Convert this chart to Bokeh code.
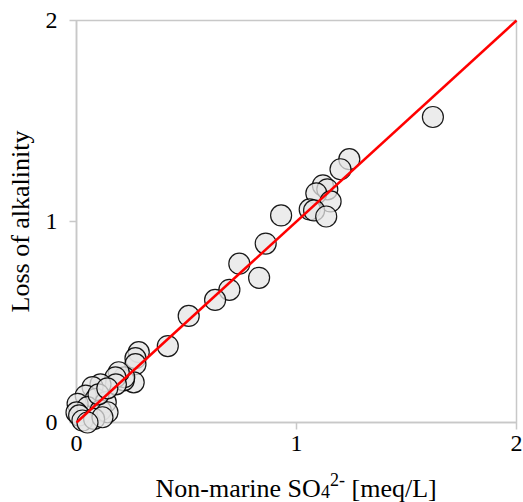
from bokeh.plotting import figure
from bokeh.layouts import column
from bokeh.models import Range1d, FixedTicker, ColumnDataSource
from bokeh.core.properties import value
from bokeh.embed import file_html
from bokeh.resources import INLINE

# Non-marine SO4(2-) [meq/L]
so4 = [1.62, 1.24, 1.20, 1.12, 1.14, 1.09, 1.155, 1.06, 1.08, 1.135, 0.93, 0.86,
       0.74, 0.83, 0.695, 0.63, 0.51, 0.415,
       0.283, 0.268, 0.268, 0.26, 0.215, 0.217, 0.192, 0.177, 0.179, 0.109, 0.073,
       0.042, 0.088, 0.133, 0.005, 0.05, 0.11, 0.141, 0.0, 0.012, 0.027, 0.08,
       0.118, 0.05, 0.10, 0.14]
# Loss of alkalinity
alk = [1.52, 1.31, 1.26, 1.18, 1.16, 1.14, 1.10, 1.06, 1.055, 1.025, 1.03, 0.89,
       0.79, 0.72, 0.66, 0.61, 0.53, 0.38,
       0.35, 0.32, 0.29, 0.20, 0.21, 0.225, 0.25, 0.225, 0.19, 0.19, 0.176,
       0.134, 0.118, 0.101, 0.093, 0.076, 0.06, 0.051, 0.05, 0.035, 0.01, 0.018,
       0.026, 0.0, 0.14, 0.17]

# 1:1 reference line
line_x = [0, 2]
line_y = [0, 2]

x_ticks = [0, 1, 2]
y_ticks = [0, 1, 2]

# x-axis title, split into pieces for subscript / superscript
title_parts = ["Non-marine SO", "4", "2-", "[meq/L]"]

GRAY = "#c8c8c8"
FONT = "Liberation Serif"

p = figure(width=523, height=466, output_backend="svg", toolbar_location=None,
           x_range=Range1d(0, 2), y_range=Range1d(0, 2),
           min_border_left=76, min_border_right=7,
           min_border_top=20, min_border_bottom=44)
p.outline_line_color = GRAY
p.outline_line_width = 1.5
p.xgrid.visible = False
p.ygrid.visible = False

p.xaxis.ticker = FixedTicker(ticks=x_ticks)
p.yaxis.ticker = FixedTicker(ticks=y_ticks)
for ax in (p.xaxis[0], p.yaxis[0]):
    ax.axis_line_color = GRAY
    ax.axis_line_width = 1.5
    ax.major_tick_line_color = GRAY
    ax.major_tick_line_width = 1.5
    ax.major_tick_in = 0
    ax.major_tick_out = 7
    ax.minor_tick_line_color = None
    ax.major_label_text_font = FONT
    ax.major_label_text_font_size = "24px"
    ax.major_label_text_color = "black"
p.xaxis.major_label_standoff = 6
p.yaxis.major_label_standoff = 12

p.yaxis.axis_label = "Loss of alkalinity"
p.yaxis.axis_label_text_font = FONT
p.yaxis.axis_label_text_font_size = "26px"
p.yaxis.axis_label_text_font_style = "normal"
p.yaxis.axis_label_text_color = "black"
p.yaxis.axis_label_standoff = 8

p.scatter(so4, alk, size=21, fill_color="#e6e6e6", fill_alpha=0.75,
          line_color="black", line_width=1.2, line_alpha=0.9, level="annotation")
p.line(line_x, line_y, line_color="#ff0000", line_width=2.5, level="annotation")

# strip holding the x-axis title; its frame lines up with the main frame (x 76..516 px)
t = figure(width=523, height=36, output_backend="svg", toolbar_location=None,
           x_range=Range1d(76, 516), y_range=Range1d(502, 466),
           x_axis_type=None, y_axis_type=None,
           min_border_left=76, min_border_right=7, min_border_top=0, min_border_bottom=0)
t.outline_line_color = None
t.xgrid.visible = False
t.ygrid.visible = False
src = ColumnDataSource(dict(
    x=[155, 320.5, 329.5, 351],
    y=[488, 491, 479, 488],
    text=title_parts,
    fs=["26px", "18px", "18px", "26px"],
))
t.text(x="x", y="y", text="text", source=src, text_font=value(FONT),
       text_font_size="fs", text_align="left", text_baseline="alphabetic",
       text_color="black")

layout = column(p, t, spacing=0)
open("out.html", "w").write(file_html(layout, INLINE))
